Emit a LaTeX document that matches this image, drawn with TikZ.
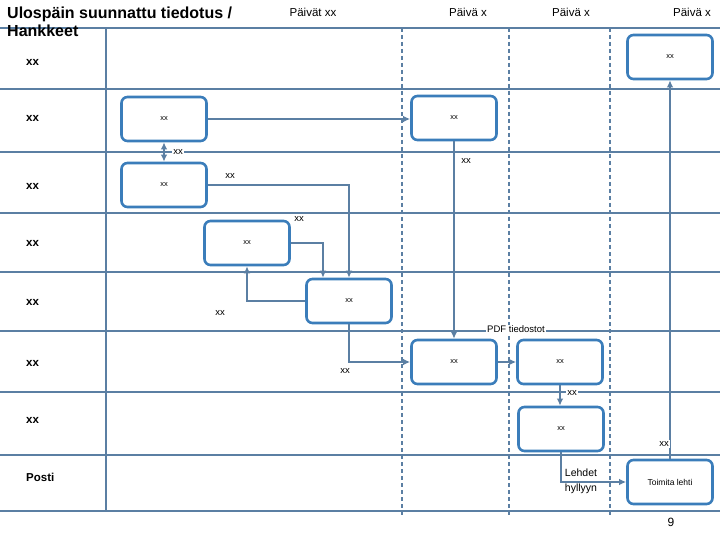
\documentclass[tikz,border=0pt]{standalone}
\usepackage{fontspec}
\setmainfont{Liberation Sans}
\usetikzlibrary{arrows.meta}

\definecolor{laneblue}{RGB}{91,127,163}
\definecolor{taskblue}{RGB}{59,125,186}

\tikzstyle{task} = [draw=taskblue, line width=2.6pt, fill=white, rounded corners=6pt, minimum width=85pt, minimum height=44pt, inner sep=0pt, font=\fontsize{7.5}{9}\selectfont]
\tikzstyle{lane line} = [draw=laneblue, line width=1.6pt]
\tikzstyle{day line} = [draw=laneblue, line width=1.6pt, dash pattern=on 4pt off 3pt]
\tikzstyle{flow} = [draw=laneblue, line width=1.6pt, ->, >={Latex[length=7pt,width=6.5pt]}]
\tikzstyle{flow label} = [fill=white, inner sep=1pt, font=\fontsize{9.5}{11}\selectfont]
\tikzstyle{lane name} = [anchor=west, inner sep=0pt, font=\bfseries\fontsize{11.5}{13}\selectfont]
\tikzstyle{day name} = [font=\fontsize{11.5}{13}\selectfont]

\begin{document}
\begin{tikzpicture}[x=1pt, y=-1pt]
    \useasboundingbox[fill=white] (0,0) rectangle (720,540);
    % Draw the swimlanes
    \foreach \y in {28,89,152,213,272,331,392,455,511}
    \path[lane line] (0,\y) -- (720,\y);
    \path[lane line] (106,28) -- (106,511);
    \foreach \x in {402,509,610}
    \path[day line] (\x,28) -- (\x,517);
    % Title, days and lanes
    \node[anchor=north west, align=left, inner sep=0pt, font=\bfseries\fontsize{16}{18}\selectfont] (title) at (7,7) {Ulospäin suunnattu tiedotus /\\Hankkeet};
    \foreach \pos/\name/\lbl in {{(313,12)/days/Päivät xx},{(468,12)/dayA/Päivä x},
        {(571,12)/dayB/Päivä x},{(692,12)/dayC/Päivä x}}
    \node[day name] (\name) at \pos {\lbl};
    \foreach \y/\name/\lbl in {62/laneA/xx,118/laneB/xx,186/laneC/xx,243/laneD/xx,
        302/laneE/xx,363/laneF/xx,420/laneG/xx,477/laneH/Posti}
    \node[lane name] (\name) at (26,\y) {\lbl};
    % Then the tasks
    \foreach \pos/\name in {{(670,57)/L1D3},{(164,119)/L2D0},{(454,118)/L2D1},
        {(164,185)/L3D0},{(247,243)/L4D0},{(349,301)/L5D0},
        {(454,362)/L6D1},{(560,362)/L6D2},{(561,429)/L7D2}}
    \node[task] (\name) at \pos {xx};
    \node[task, font=\fontsize{8.5}{10}\selectfont] (L8D3) at (670,482) {Toimita lehti};
    % Flow between the tasks
    \path[flow] (L2D0.east) -- (L2D0.east -| L2D1.west);
    \path[flow, <->] (L2D0.south) -- (L3D0.north);
    \path[flow] (L3D0.east) -| (L5D0.north);
    \path[flow] (L4D0.east) -| ([xshift=-26pt]L5D0.north);
    \path[flow] (L5D0.west) -| (L4D0.south);
    \path[flow] (L5D0.south) |- (L6D1.west);
    \path[flow] (L2D1.south) -- (L6D1.north);
    \path[flow] (L6D1.east) -- (L6D2.west);
    \path[flow] (L6D2.south) -- (L6D2.south |- L7D2.north);
    \path[flow] (L7D2.south) |- (L8D3.west);
    \path[flow] (L8D3.north) -- (L1D3.south);
    % Labels of the flow
    \foreach \pos/\name/\lbl in {{(178,152)/fA/xx},{(230,176)/fB/xx},{(299,219)/fC/xx},
        {(220,313)/fD/xx},{(345,371)/fE/xx},{(466,161)/fF/xx},
        {(516,329)/fG/PDF tiedostot},{(572,393)/fH/xx},{(664,444)/fJ/xx}}
    \node[flow label] (\name) at \pos {\lbl};
    \node[flow label, align=center, fill=none, font=\fontsize{10.5}{15}\selectfont] (fK) at (581,481) {Lehdet\\hyllyyn};
    \node[font=\fontsize{12}{14}\selectfont] (page) at (671,522) {9};
\end{tikzpicture}
\end{document}
